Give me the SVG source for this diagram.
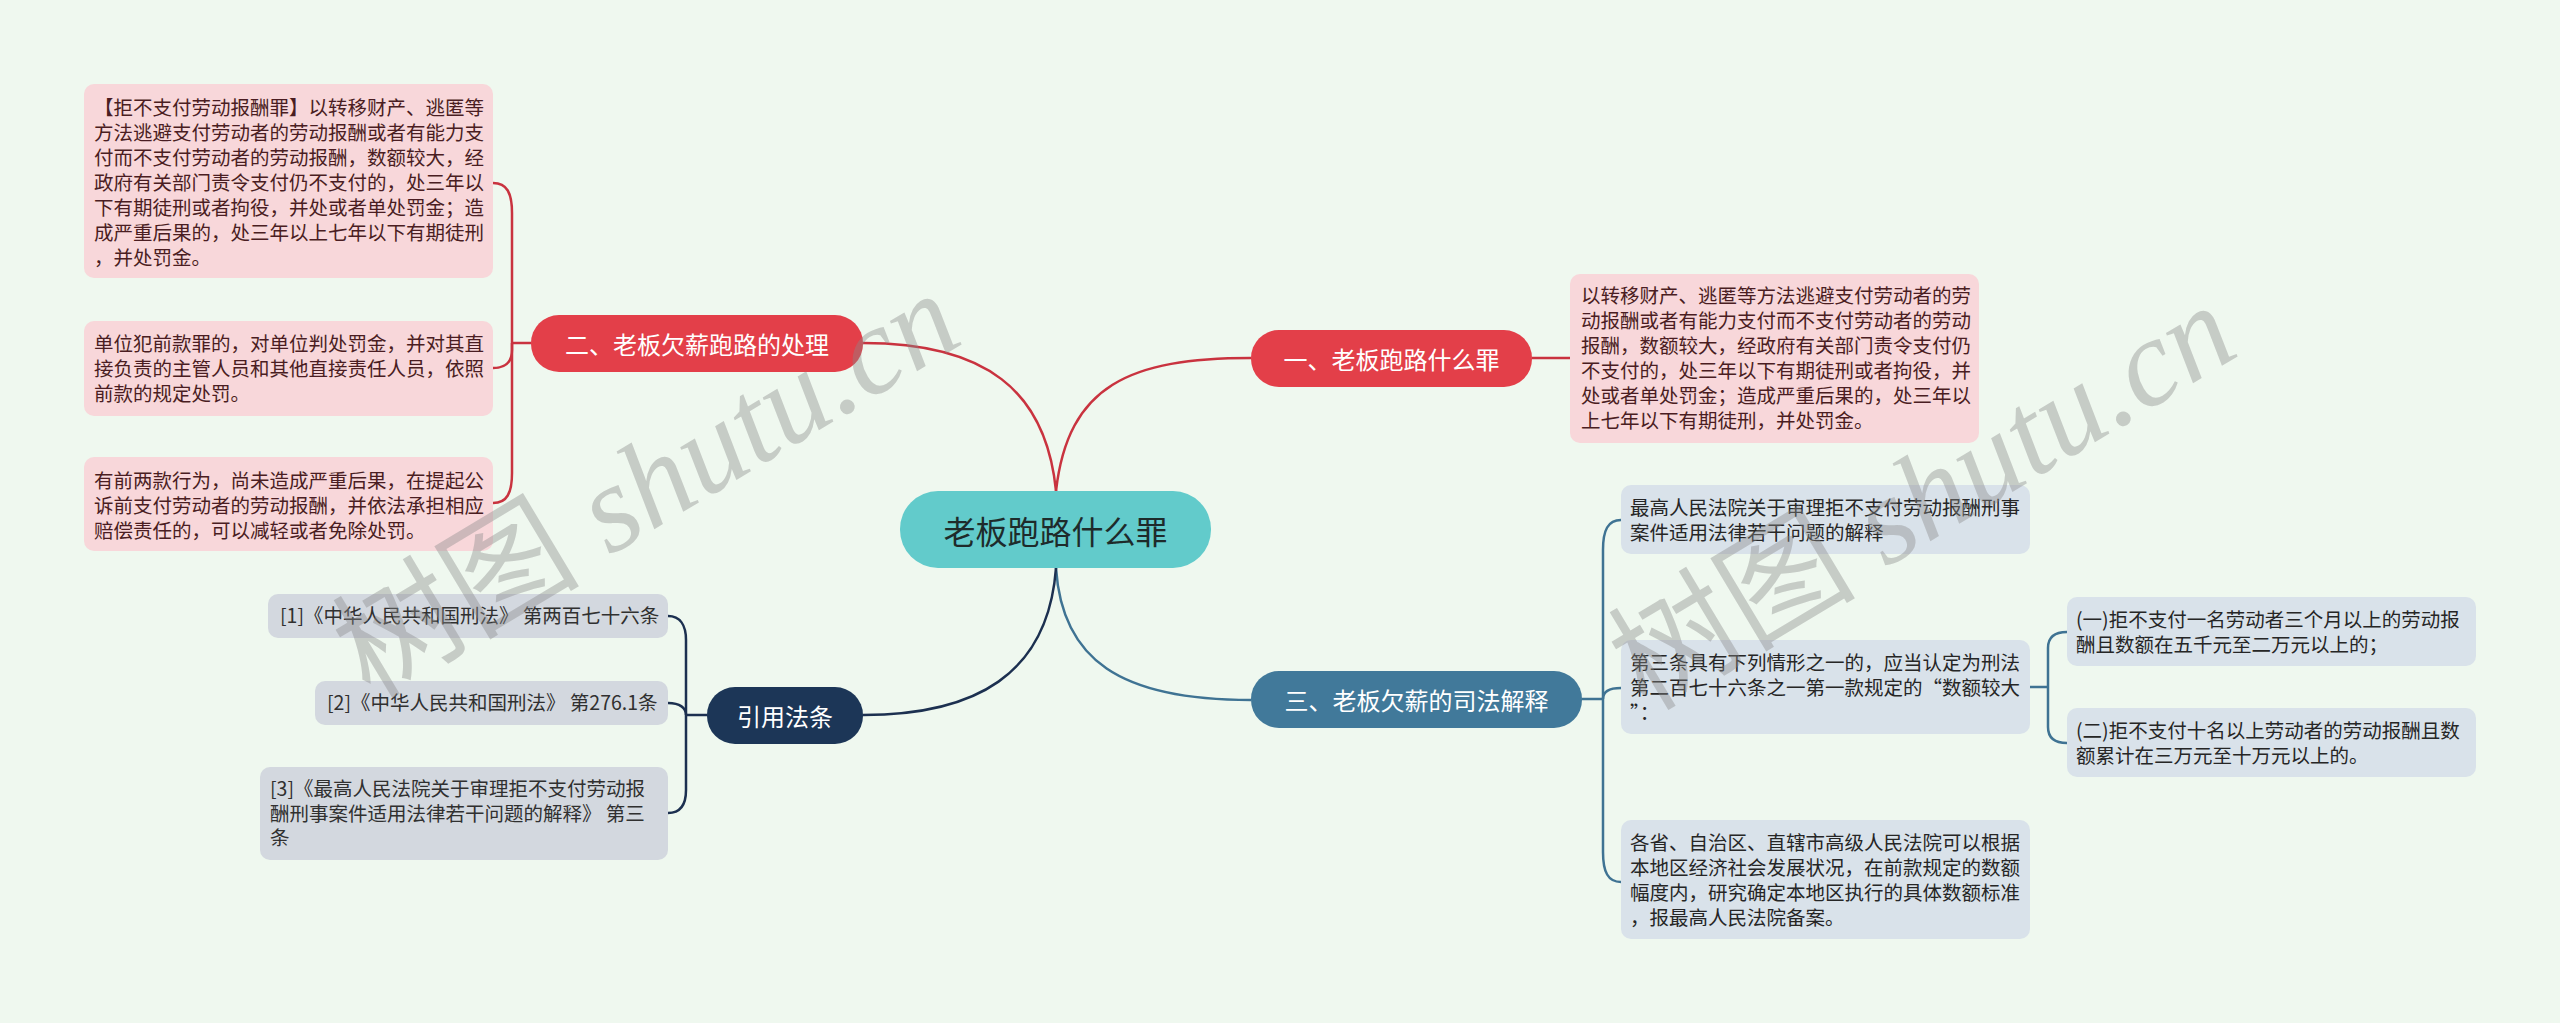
<svg xmlns="http://www.w3.org/2000/svg" width="2560" height="1023" viewBox="0 0 2560 1023">
<style>
text{font-family:"Noto Sans CJK SC","Noto Sans",sans-serif;}
.leafP{fill:#f8d7da;}
.leafB{fill:#d9e2ea;}
.leafG{fill:#d3d8df;}
.tP{font-size:19.5px;fill:#4a1d22;}
.tB{font-size:19.5px;fill:#262626;}
.tG{font-size:19.5px;fill:#303030;}
.br{font-size:24px;fill:#ffffff;text-anchor:middle;dominant-baseline:central;}
.cR{fill:none;stroke:#c9333f;stroke-width:2.5;}
.cB{fill:none;stroke:#3f7393;stroke-width:2.5;}
.cN{fill:none;stroke:#1c3050;stroke-width:2.5;}
.wm{font-family:"Liberation Serif","Noto Sans CJK SC",serif;font-size:124px;fill:#8a8a8a;fill-opacity:0.4;}
</style>
<rect x="0" y="0" width="2560" height="1023" fill="#eff8ef"/>

<g id="connectors">
  <path class="cR" d="M1056 491 C1068 385 1130 358 1251 358"/>
  <path class="cR" d="M1056 491 C1046 390 985 343 863 343"/>
  <path class="cB" d="M1056 568 C1062 660 1120 700 1251 700"/>
  <path class="cN" d="M1056 568 C1048 675 975 715 863 715"/>
  <path class="cR" d="M1532 358 H1571"/>
  <path class="cR" d="M531 343 H512"/>
  <path class="cR" d="M512 343 V213 C512 193 507 183 493 183"/>
  <path class="cR" d="M512 343 V350 C512 362 506 368 493 368"/>
  <path class="cR" d="M512 343 V473 C512 493 507 503 493 503"/>
  <path class="cB" d="M1582 699 H1603"/>
  <path class="cB" d="M1603 699 V550 C1603 530 1608 520 1621 520"/>
  <path class="cB" d="M1603 699 C1603 692 1608 688 1621 688"/>
  <path class="cB" d="M1603 699 V852 C1603 872 1608 882 1621 882"/>
  <path class="cB" d="M2030 687 H2048"/>
  <path class="cB" d="M2048 687 V648 C2048 638 2054 632 2067 632"/>
  <path class="cB" d="M2048 687 V727 C2048 737 2054 743 2067 743"/>
  <path class="cN" d="M707 715 H686"/>
  <path class="cN" d="M686 715 V640 C686 625 680 616 668 616"/>
  <path class="cN" d="M686 715 C686 708 680 703 668 703"/>
  <path class="cN" d="M686 715 V790 C686 805 680 813 668 813"/>
</g>

<g id="root">
  <rect x="900" y="491" width="311" height="77" rx="38" fill="#62cbcb"/>
  <text x="1055.5" y="530" font-size="32" fill="#1e2b2b" text-anchor="middle" dominant-baseline="central">老板跑路什么罪</text>
</g>

<g id="b1">
  <rect x="1251" y="330" width="281" height="57" rx="28" fill="#e33f49"/>
  <text class="br" x="1391.5" y="358.5">一、老板跑路什么罪</text>
</g>
<g id="b2">
  <rect x="531" y="315" width="332" height="57" rx="28" fill="#e33f49"/>
  <text class="br" x="697" y="343.5">二、老板欠薪跑路的处理</text>
</g>
<g id="b3">
  <rect x="1251" y="671" width="331" height="57" rx="28" fill="#41799a"/>
  <text class="br" x="1416.5" y="699.5">三、老板欠薪的司法解释</text>
</g>
<g id="b4">
  <rect x="707" y="687" width="156" height="57" rx="28" fill="#1c3657"/>
  <text class="br" x="785" y="715.5">引用法条</text>
</g>

<g id="leaf1">
  <rect class="leafP" x="1570" y="274" width="409" height="169" rx="10"/>
  <text class="tP" x="1581" y="303">以转移财产、逃匿等方法逃避支付劳动者的劳</text>
  <text class="tP" x="1581" y="328">动报酬或者有能力支付而不支付劳动者的劳动</text>
  <text class="tP" x="1581" y="353">报酬，数额较大，经政府有关部门责令支付仍</text>
  <text class="tP" x="1581" y="378">不支付的，处三年以下有期徒刑或者拘役，并</text>
  <text class="tP" x="1581" y="403">处或者单处罚金；造成严重后果的，处三年以</text>
  <text class="tP" x="1581" y="428">上七年以下有期徒刑，并处罚金。</text>
</g>

<g id="leaf2a">
  <rect class="leafP" x="84" y="84" width="409" height="194" rx="10"/>
  <text class="tP" x="94" y="115">【拒不支付劳动报酬罪】以转移财产、逃匿等</text>
  <text class="tP" x="94" y="140">方法逃避支付劳动者的劳动报酬或者有能力支</text>
  <text class="tP" x="94" y="165">付而不支付劳动者的劳动报酬，数额较大，经</text>
  <text class="tP" x="94" y="190">政府有关部门责令支付仍不支付的，处三年以</text>
  <text class="tP" x="94" y="215">下有期徒刑或者拘役，并处或者单处罚金；造</text>
  <text class="tP" x="94" y="240">成严重后果的，处三年以上七年以下有期徒刑</text>
  <text class="tP" x="94" y="265">，并处罚金。</text>
</g>
<g id="leaf2b">
  <rect class="leafP" x="84" y="321" width="409" height="95" rx="10"/>
  <text class="tP" x="94" y="351">单位犯前款罪的，对单位判处罚金，并对其直</text>
  <text class="tP" x="94" y="376">接负责的主管人员和其他直接责任人员，依照</text>
  <text class="tP" x="94" y="401">前款的规定处罚。</text>
</g>
<g id="leaf2c">
  <rect class="leafP" x="84" y="457" width="409" height="94" rx="10"/>
  <text class="tP" x="94" y="488">有前两款行为，尚未造成严重后果，在提起公</text>
  <text class="tP" x="94" y="513">诉前支付劳动者的劳动报酬，并依法承担相应</text>
  <text class="tP" x="94" y="538">赔偿责任的，可以减轻或者免除处罚。</text>
</g>

<g id="leaf3a">
  <rect class="leafB" x="1621" y="485" width="409" height="69" rx="10"/>
  <text class="tB" x="1630" y="515">最高人民法院关于审理拒不支付劳动报酬刑事</text>
  <text class="tB" x="1630" y="540">案件适用法律若干问题的解释</text>
</g>
<g id="leaf3b">
  <rect class="leafB" x="1621" y="640" width="409" height="94" rx="10"/>
  <text class="tB" x="1630" y="670">第三条具有下列情形之一的，应当认定为刑法</text>
  <text class="tB" x="1630" y="695">第二百七十六条之一第一款规定的“数额较大</text>
  <text class="tB" x="1630" y="720">”：</text>
</g>
<g id="leaf3c">
  <rect class="leafB" x="1621" y="820" width="409" height="119" rx="10"/>
  <text class="tB" x="1630" y="850">各省、自治区、直辖市高级人民法院可以根据</text>
  <text class="tB" x="1630" y="875">本地区经济社会发展状况，在前款规定的数额</text>
  <text class="tB" x="1630" y="900">幅度内，研究确定本地区执行的具体数额标准</text>
  <text class="tB" x="1630" y="925">，报最高人民法院备案。</text>
</g>
<g id="leaf3b1">
  <rect class="leafB" x="2067" y="597" width="409" height="69" rx="10"/>
  <text class="tB" x="2076" y="627">(一)拒不支付一名劳动者三个月以上的劳动报</text>
  <text class="tB" x="2076" y="652">酬且数额在五千元至二万元以上的；</text>
</g>
<g id="leaf3b2">
  <rect class="leafB" x="2067" y="708" width="409" height="69" rx="10"/>
  <text class="tB" x="2076" y="738">(二)拒不支付十名以上劳动者的劳动报酬且数</text>
  <text class="tB" x="2076" y="763">额累计在三万元至十万元以上的。</text>
</g>

<g id="cite1">
  <rect class="leafG" x="268" y="594" width="400" height="44" rx="10"/>
  <text class="tG" x="280" y="623">[1]《中华人民共和国刑法》 第两百七十六条</text>
</g>
<g id="cite2">
  <rect class="leafG" x="315" y="681" width="353" height="44" rx="10"/>
  <text class="tG" x="327" y="710">[2]《中华人民共和国刑法》 第276.1条</text>
</g>
<g id="cite3">
  <rect class="leafG" x="260" y="767" width="408" height="93" rx="10"/>
  <text class="tG" x="270" y="796">[3]《最高人民法院关于审理拒不支付劳动报</text>
  <text class="tG" x="270" y="820.5">酬刑事案件适用法律若干问题的解释》 第三</text>
  <text class="tG" x="270" y="845">条</text>
</g>

<g id="watermarks">
  <text class="wm" transform="translate(370 700) rotate(-31)">树图 <tspan font-style="italic">shutu.cn</tspan></text>
  <text class="wm" transform="translate(1646 712) rotate(-31)">树图 <tspan font-style="italic">shutu.cn</tspan></text>
</g>
</svg>
